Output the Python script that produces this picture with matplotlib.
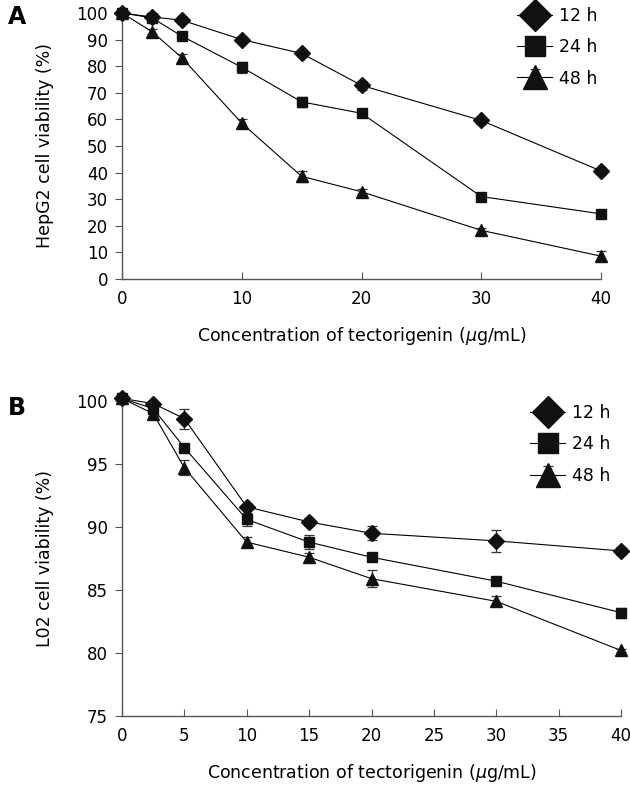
import matplotlib
matplotlib.use("Agg")
import matplotlib.pyplot as plt

plt.rcParams["font.family"] = ["DejaVu Sans"]

# -----------------------------------------------------------------------
# Data
# -----------------------------------------------------------------------
conc = [0, 2.5, 5, 10, 15, 20, 30, 40]
labels = ["12 h", "24 h", "48 h"]
markers = ["D", "s", "^"]

hepg2_12h = [100, 98.5, 97.3, 90.0, 84.8, 72.8, 59.6, 40.6]
hepg2_24h = [100, 98.2, 91.3, 79.6, 66.6, 62.3, 31.0, 24.5]
hepg2_48h = [100, 93.0, 83.2, 58.6, 38.6, 32.8, 18.3, 8.6]
hepg2_12h_err = [0.5, 1.0, 1.2, 0.8, 1.2, 1.8, 1.2, 1.2]
hepg2_24h_err = [0.5, 1.0, 0.8, 2.0, 2.0, 1.0, 1.0, 1.2]
hepg2_48h_err = [0.5, 1.0, 1.5, 1.5, 2.0, 1.0, 1.0, 2.0]

l02_12h = [100.2, 99.8, 98.6, 91.6, 90.4, 89.5, 88.9, 88.1]
l02_24h = [100.2, 99.4, 96.3, 90.6, 88.8, 87.6, 85.7, 83.2]
l02_48h = [100.2, 99.0, 94.7, 88.8, 87.6, 85.9, 84.1, 80.2]
l02_12h_err = [0.1, 0.2, 0.8, 0.2, 0.35, 0.55, 0.9, 0.3]
l02_24h_err = [0.1, 0.2, 0.15, 0.5, 0.55, 0.2, 0.2, 0.4]
l02_48h_err = [0.1, 0.2, 0.6, 0.4, 0.3, 0.7, 0.4, 0.15]

hepg2 = [(hepg2_12h, hepg2_12h_err), (hepg2_24h, hepg2_24h_err), (hepg2_48h, hepg2_48h_err)]
l02 = [(l02_12h, l02_12h_err), (l02_24h, l02_24h_err), (l02_48h, l02_48h_err)]

W, H = 630, 788
fig = plt.figure(figsize=(W / 100, H / 100), dpi=100)

axA = fig.add_axes([122 / W, 1 - 279 / H, (601 - 122) / W, (279 - 13) / H])
axB = fig.add_axes([122 / W, 1 - 716 / H, (621 - 122) / W, (716 - 401) / H])

msize = {"D": 8, "s": 7, "^": 8.5}


def draw(ax, series, ylim, yticks, xticks, ylabel, legend_anchor):
    for (vals, errs), lab, mk in zip(series, labels, markers):
        ax.errorbar(conc, vals, yerr=errs, color="black", ecolor="#333333",
                    elinewidth=0.9, capsize=3.5, capthick=0.9, lw=0.8,
                    marker=mk, ms=msize[mk], mfc="#111111", mec="#111111",
                    label=lab, clip_on=False, zorder=3)
    ax.set_xlim(0, 40)
    ax.set_ylim(*ylim)
    ax.set_xticks(xticks)
    ax.set_yticks(yticks)
    for s in ["top", "right"]:
        ax.spines[s].set_visible(False)
    for s in ["left", "bottom"]:
        ax.spines[s].set_color("#555555")
        ax.spines[s].set_linewidth(1.0)
    ax.tick_params(axis="x", direction="in", length=5, color="#555555",
                   labelsize=12, pad=8)
    ax.tick_params(axis="y", direction="out", length=5, color="#555555",
                   labelsize=12, pad=5)
    ax.set_xlabel("Concentration of tectorigenin ($\\mu$g/mL)", fontsize=12.5,
                  labelpad=12)
    ax.set_ylabel(ylabel, fontsize=12.5, labelpad=16)
    leg = ax.legend(loc="upper right", bbox_to_anchor=legend_anchor,
                    frameon=False, fontsize=12.5, markerscale=2.1,
                    handlelength=2.0, handletextpad=0.4, labelspacing=0.77)
    for h in leg.legend_handles:
        h.set_linewidth(0.6)


draw(axA, hepg2, (0, 100), range(0, 101, 10), [0, 10, 20, 30, 40],
     "HepG2 cell viability (%)", (1.025, 1.082))
draw(axB, l02, (75, 100), range(75, 101, 5), range(0, 41, 5),
     "L02 cell viability (%)", (1.01, 1.04))

fig.text(8 / W, 1 - 17 / H, "A", fontsize=17, fontweight="bold", va="center")
fig.text(8 / W, 1 - 408 / H, "B", fontsize=17, fontweight="bold", va="center")

fig.savefig("out.png", dpi=100)
